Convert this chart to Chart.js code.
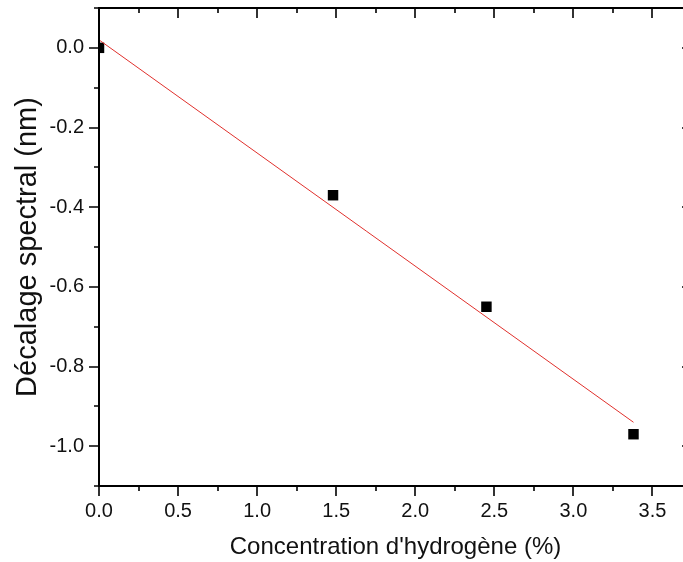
<!DOCTYPE html>
<html>
<head>
<meta charset="utf-8">
<script src="https://cdn.jsdelivr.net/npm/chart.js@4.4.1/dist/chart.umd.min.js"></script>
<style>
  body { margin: 0; background: #fff; overflow: hidden; }
  #wrap { width: 683px; height: 562px; overflow: hidden; }
</style>
</head>
<body>
<div id="wrap"><canvas id="myChart"></canvas></div>
<script>
// values
var concentration = [0, 1.48, 2.45, 3.38];
var decalage = [0, -0.37, -0.65, -0.97];
// linear fit, ends of the red line
var fitX = [0, 3.38];
var fitY = [0.02, -0.94];

var xTicks = [0, 0.5, 1.0, 1.5, 2.0, 2.5, 3.0, 3.5];
var xMinor = [0.25, 0.75, 1.25, 1.75, 2.25, 2.75, 3.25];
var yTicks = [-1.0, -0.8, -0.6, -0.4, -0.2, 0.0];
var yMinor = [-1.1, -0.9, -0.7, -0.5, -0.3, -0.1, 0.1];

var font = 'Liberation Sans, Arial, sans-serif';

// frame + ticks like Origin: outward on left/bottom, inward on top/right
var frame = {
  id: 'frame',
  afterDraw: function(chart) {
    var c = chart.ctx, a = chart.chartArea;
    var xs = chart.scales.x, ys = chart.scales.y;
    c.save();
    c.strokeStyle = '#000';
    c.lineWidth = 2;
    c.beginPath();
    c.moveTo(a.left, a.top); c.lineTo(a.right, a.top); c.lineTo(a.right, a.bottom);
    c.lineTo(a.left, a.bottom); c.closePath();
    c.stroke();
    c.lineWidth = 1.6;
    function tx(v, len) {
      var p = Math.round(xs.getPixelForValue(v));
      c.beginPath();
      c.moveTo(p, a.bottom); c.lineTo(p, a.bottom + len);
      c.moveTo(p, a.top); c.lineTo(p, a.top + len);
      c.stroke();
    }
    function ty(v, len) {
      var p = Math.round(ys.getPixelForValue(v));
      c.beginPath();
      c.moveTo(a.left, p); c.lineTo(a.left - len, p);
      c.moveTo(a.right, p); c.lineTo(a.right - len, p);
      c.stroke();
    }
    xTicks.forEach(function(v) { tx(v, 10); });
    xMinor.forEach(function(v) { tx(v, 5); });
    yTicks.forEach(function(v) { ty(v, 10); });
    yMinor.forEach(function(v) { ty(v, 5); });
    c.restore();
  }
};

var ctx = document.getElementById('myChart');
var config = {
  type: 'scatter',
  data: {
    datasets: [{
      label: 'fit',
      data: fitX.map(function(x, i) { return {x: x, y: fitY[i]}; }),
      showLine: true,
      borderColor: '#e0302c',
      borderWidth: 1,
      pointRadius: 0,
      clip: 0
    }, {
      label: 'mesures',
      data: concentration.map(function(x, i) { return {x: x, y: decalage[i]}; }),
      pointStyle: 'rect',
      pointRadius: 7.4,
      backgroundColor: '#000',
      borderColor: '#000',
      borderWidth: 0,
      clip: 0
    }]
  },
  options: {
    responsive: false,
    animation: false,
    // the right axis of the original sits just outside the picture
    layout: { autoPadding: false, padding: { top: 8, right: 0, left: 0, bottom: 0 } },
    plugins: { legend: { display: false }, tooltip: { enabled: false } },
    scales: {
      x: {
        type: 'linear',
        min: 0, max: 3.75,
        afterBuildTicks: function(s) { s.ticks = xTicks.map(function(v) { return {value: v}; }); },
        afterFit: function(s) { s.height = 76; s.paddingLeft = 0; s.paddingRight = 0; },
        grid: { display: false, drawTicks: false },
        border: { display: false },
        ticks: {
          padding: 13,
          color: '#111',
          font: { family: font, size: 20 },
          callback: function(v) { return v.toFixed(1); }
        },
        title: {
          display: true,
          text: "Concentration d'hydrogène (%)",
          color: '#111',
          font: { family: font, size: 24 },
          padding: { top: 6, bottom: 0 }
        }
      },
      y: {
        type: 'linear',
        min: -1.1, max: 0.1,
        afterBuildTicks: function(s) { s.ticks = yTicks.map(function(v) { return {value: v}; }); },
        afterFit: function(s) { s.width = 99; s.paddingTop = 0; s.paddingBottom = 0; },
        grid: { display: false, drawTicks: false },
        border: { display: false },
        ticks: {
          padding: 15,
          color: '#111',
          font: { family: font, size: 20 },
          callback: function(v) { return v.toFixed(1); }
        },
        title: {
          display: true,
          text: 'Décalage spectral (nm)',
          color: '#111',
          font: { family: font, size: 29 },
          padding: { top: 11, bottom: 0 }
        }
      }
    }
  },
  plugins: [frame]
};
ctx.width = 692;
ctx.height = 562;
var myChart = new Chart(ctx, config);
</script>
</body>
</html>
